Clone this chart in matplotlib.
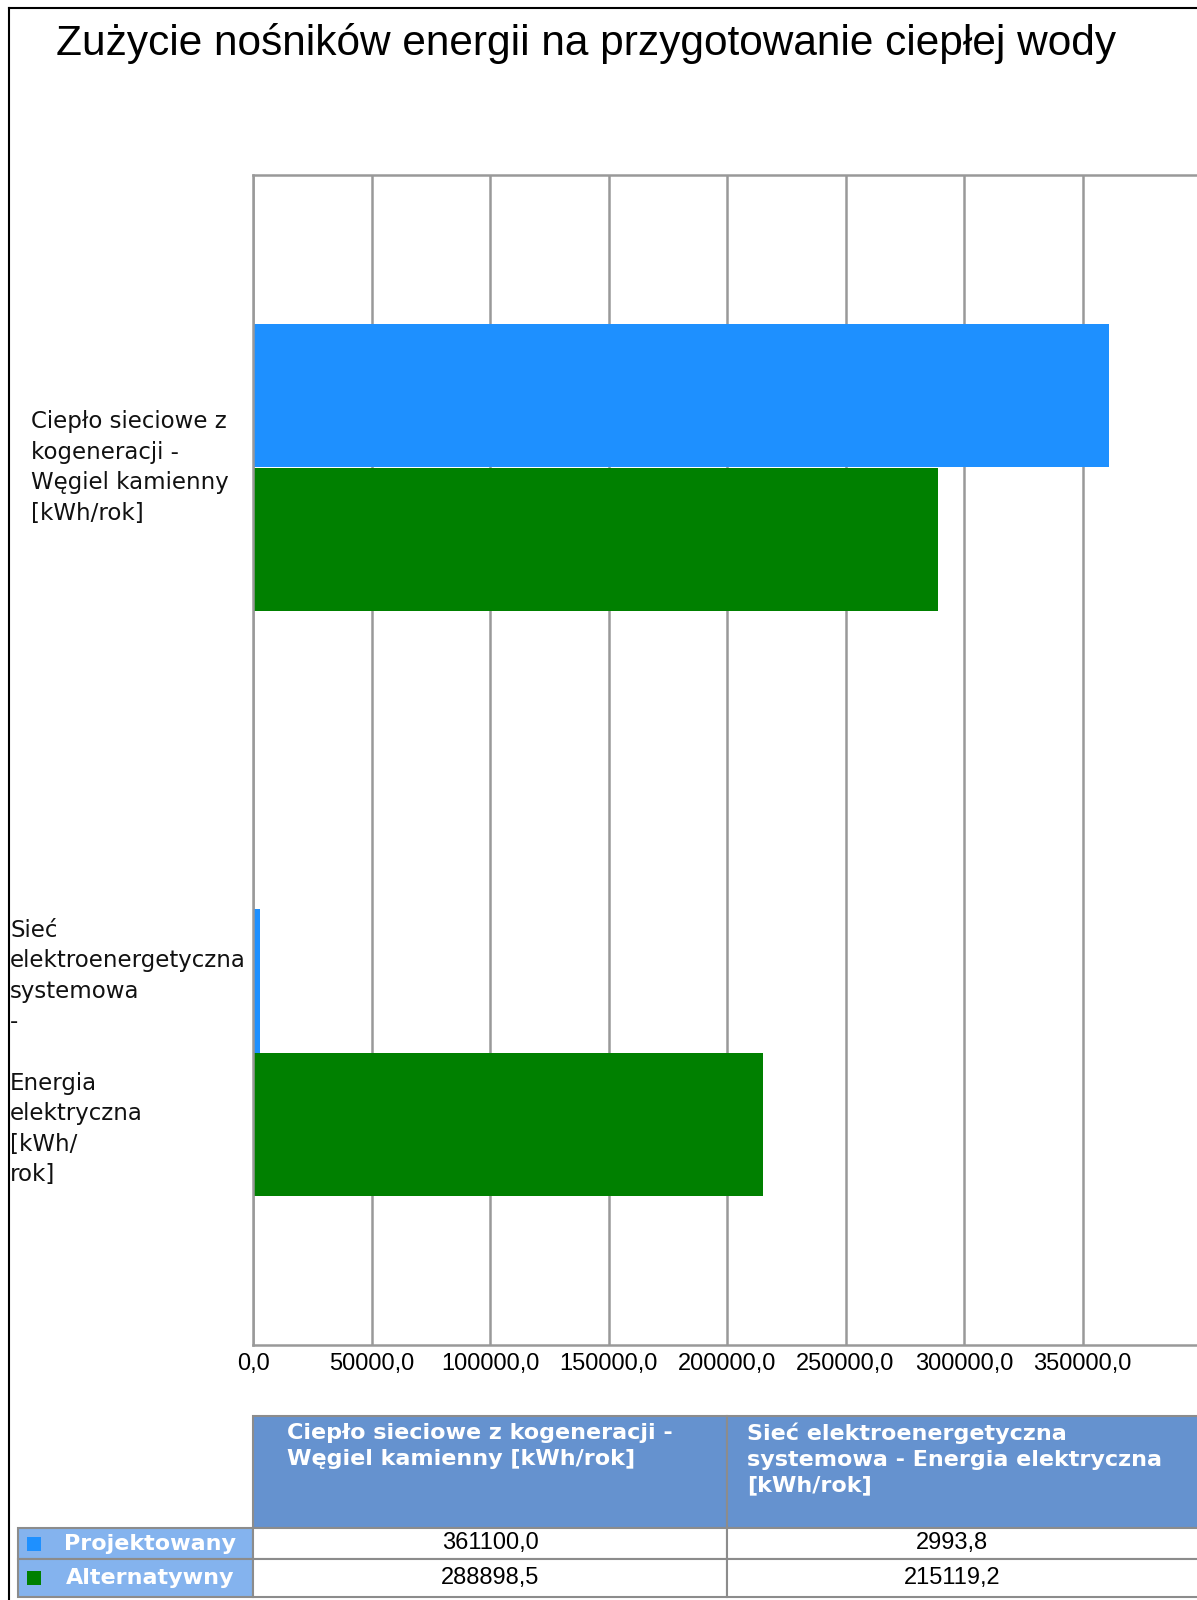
import numpy as np
import matplotlib
matplotlib.use("Agg")
import matplotlib.pyplot as plt
from matplotlib.patches import Rectangle

# data
categories = ["Ciepło sieciowe z\nkogeneracji -\nWęgiel kamienny\n[kWh/rok]",
              "Sieć\nelektroenergetyczna\nsystemowa\n-\n\nEnergia\nelektryczna\n[kWh/\nrok]"]
table_headers = ["Ciepło sieciowe z kogeneracji -\nWęgiel kamienny [kWh/rok]",
                 "Sieć elektroenergetyczna\nsystemowa - Energia elektryczna\n[kWh/rok]"]
series_names = ["Projektowany", "Alternatywny"]
projektowany = [361100.0, 2993.8]
alternatywny = [288898.5, 215119.2]
colors = ["#1E90FF", "#008000"]
xticks = [0, 50000, 100000, 150000, 200000, 250000, 300000, 350000, 400000]

W, H = 1197, 1600
fig = plt.figure(figsize=(W / 100, H / 100), dpi=100)

def fx(px):
    return px / W

def fy(py):
    return 1 - py / H

def fmt(v):
    return ("%.1f" % v).replace(".", ",")

# outer frame (left and top visible)
fig.add_artist(plt.Line2D([fx(9), fx(9)], [fy(8), 0], color="black", lw=1.5))
fig.add_artist(plt.Line2D([fx(9), 1], [fy(8), fy(8)], color="black", lw=1.5))

fig.text(fx(56), fy(43), "Zużycie nośników energii na przygotowanie ciepłej wody",
         fontsize=30.5, family="Liberation Sans", va="center", ha="left")

# axes
ax = fig.add_axes([fx(253), fy(1345), fx(1201) - fx(253), fy(175) - fy(1345)])
y = np.arange(len(categories))
bh = 0.245
ax.barh(y - bh / 2, projektowany, height=bh, color=colors[0])
ax.barh(y + bh / 2, alternatywny, height=bh, color=colors[1])
ax.set_ylim(-0.5, 1.5)
ax.invert_yaxis()
ax.set_xlim(0, 400000)
ax.set_xticks(xticks)
ax.set_xticklabels([fmt(t) if t < 400000 else "" for t in xticks],
                   fontsize=17, family="Liberation Sans")
ax.tick_params(axis="x", length=0, pad=6)
ax.set_yticks([])
ax.grid(axis="x", color="#999999", lw=1.8)
ax.set_axisbelow(True)
for s in ax.spines.values():
    s.set_color("#999999")
    s.set_linewidth(1.8)

# category labels
label_x = [31, 10]
for i, lab in enumerate(categories):
    yy = ax.transData.transform((0, y[i]))[1] / H
    fig.text(fx(label_x[i]), yy, lab, fontsize=16.5, family="DejaVu Sans",
             va="center", ha="left", linespacing=1.42, color="#111111")

# data table
col_x = [18, 253, 727, 1201]
row_y = [1416, 1528, 1559, 1597]
header_c = "#6592CF"
rowlab_c = "#84B3EE"
edge = "#8c8c8c"

def cell(x0, y0, x1, y1, fc):
    fig.add_artist(Rectangle((fx(x0), fy(y1)), fx(x1) - fx(x0), fy(y0) - fy(y1),
                             facecolor=fc, edgecolor=edge, lw=1.5,
                             transform=fig.transFigure))

for j, hd in enumerate(table_headers):
    cell(col_x[j + 1], row_y[0], col_x[j + 2], row_y[1], header_c)
    fig.text(fx(col_x[j + 1] + 34 - 14 * j), fy(row_y[0] + 7), hd, fontsize=16,
             weight="bold", color="white", va="top", ha="left", linespacing=1.35)

rows = [projektowany, alternatywny]
for r, name in enumerate(series_names):
    y0, y1 = row_y[r + 1], row_y[r + 2]
    cell(col_x[0], y0, col_x[1], y1, rowlab_c)
    ym = (y0 + y1) / 2
    fig.add_artist(Rectangle((fx(27), fy(ym + 7)), fx(14), 14 / H,
                             facecolor=colors[r], edgecolor="none",
                             transform=fig.transFigure))
    fig.text(fx(150), fy(ym), name, fontsize=16, weight="bold", color="white",
             va="center", ha="center")
    for j, v in enumerate(rows[r]):
        cell(col_x[j + 1], y0, col_x[j + 2], y1, "white")
        fig.text(fx((col_x[j + 1] + col_x[j + 2]) / 2 - 12 * j), fy(ym), fmt(v),
                 fontsize=17, family="Liberation Sans", va="center", ha="center")

fig.savefig("out.png", dpi=100)
